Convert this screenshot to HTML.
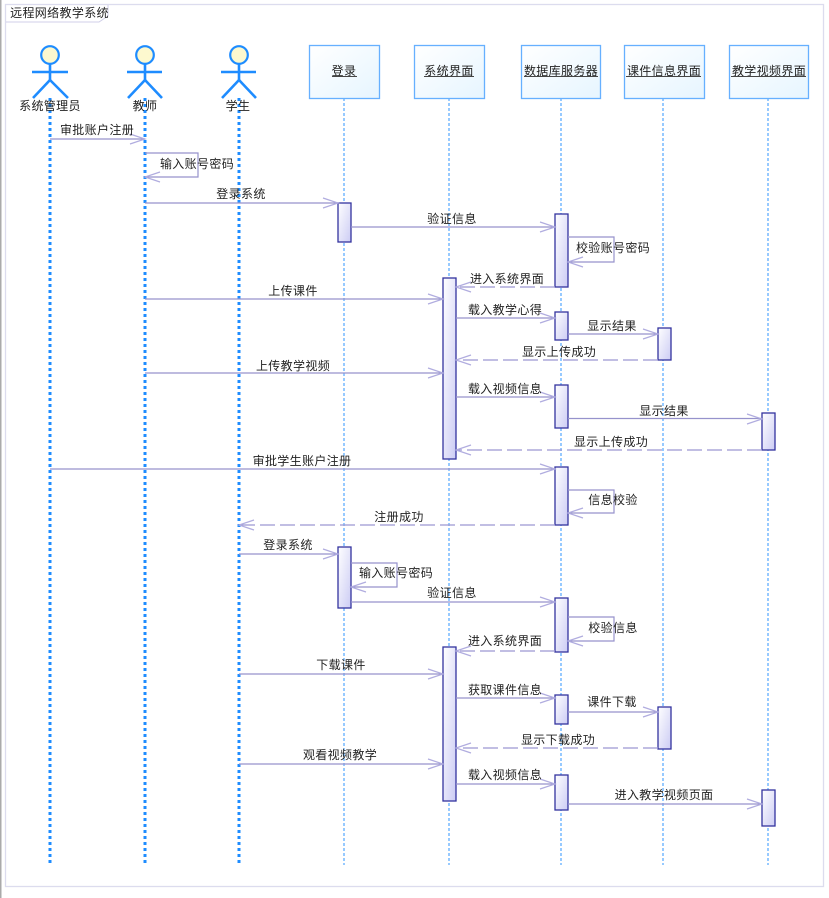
<!DOCTYPE html>
<html lang="zh"><head><meta charset="utf-8"><title>远程网络教学系统</title>
<style>
html,body{margin:0;padding:0;background:#fff;width:829px;height:898px;overflow:hidden}
svg{display:block;filter:blur(.3px)}
text{font-family:"Liberation Sans","Noto Sans CJK SC","WenQuanYi Zen Hei",sans-serif;font-size:12px;letter-spacing:.35px;fill:#222;text-anchor:middle}
.ll{stroke:#2f96ff;stroke-width:1;stroke-dasharray:3 2;fill:none}
.th{stroke:#1e8cff;stroke-width:3;stroke-dasharray:3 3;fill:none}
.m{stroke:#9692cc;stroke-width:1.2;fill:none}
.d{stroke:#9c98d2;stroke-width:1.2;stroke-dasharray:15 5;fill:none}
.ar{stroke:#b0acdf;stroke-width:1.2;fill:none}
.ac{fill:url(#g);stroke:#33339f;stroke-width:1.3}
.box{fill:url(#b);stroke:#66b0ff;stroke-width:1.3}
.act line{stroke:#1e8cff;stroke-width:2.6}
.act circle{fill:#fdf9cf;stroke:#1e8cff;stroke-width:2.2}
.u{stroke:#444;stroke-width:1}
</style></head><body>
<svg width="829" height="898" viewBox="0 0 829 898" xmlns="http://www.w3.org/2000/svg">
<defs>
<linearGradient id="g" x1="0" y1="0" x2="1" y2="1"><stop offset="0" stop-color="#fff"/><stop offset="1" stop-color="#ccccf4"/></linearGradient>
<linearGradient id="b" x1="0" y1="0" x2="1" y2="1"><stop offset="0" stop-color="#fff"/><stop offset="1" stop-color="#e6f5ff"/></linearGradient>
</defs>
<rect x="0" y="0" width="1.5" height="898" fill="#aaa"/>
<rect x="5.5" y="4.5" width="818" height="882" fill="#fff" stroke="#dcdcee" stroke-width="1.3"/>
<polyline points="6,22 99,22 108,16 108,5" fill="none" stroke="#d0cfe8" stroke-width="1"/>
<text x="59.5" y="17" style="letter-spacing:.35px">远程网络教学系统</text>

<line class="th" x1="50" y1="98" x2="50" y2="865"/>
<line class="th" x1="145" y1="98" x2="145" y2="865"/>
<line class="th" x1="239" y1="98" x2="239" y2="865"/>
<line class="ll" x1="344" y1="98" x2="344" y2="865"/>
<line class="ll" x1="449" y1="98" x2="449" y2="865"/>
<line class="ll" x1="561" y1="98" x2="561" y2="865"/>
<line class="ll" x1="663" y1="98" x2="663" y2="865"/>
<line class="ll" x1="768" y1="98" x2="768" y2="865"/>

<g class="act"><circle cx="50" cy="55" r="8.8"/><line x1="50" y1="64" x2="50" y2="80"/><line x1="32" y1="72" x2="68" y2="72"/><line x1="50" y1="80" x2="33" y2="98"/><line x1="50" y1="80" x2="68" y2="98"/></g>
<g class="act"><circle cx="145" cy="55" r="8.8"/><line x1="145" y1="64" x2="145" y2="80"/><line x1="127" y1="72" x2="162" y2="72"/><line x1="145" y1="80" x2="128" y2="98"/><line x1="145" y1="80" x2="162" y2="98"/></g>
<g class="act"><circle cx="239" cy="55" r="8.8"/><line x1="239" y1="64" x2="239" y2="80"/><line x1="221" y1="72" x2="256" y2="72"/><line x1="239" y1="80" x2="222" y2="98"/><line x1="239" y1="80" x2="256" y2="98"/></g>
<text x="50" y="110">系统管理员</text><text x="145" y="110">教师</text><text x="238" y="110">学生</text>

<rect class="box" x="309.5" y="45.5" width="70" height="53"/>
<rect class="box" x="414.5" y="45.5" width="70" height="53"/>
<rect class="box" x="521.5" y="45.5" width="79" height="53"/>
<rect class="box" x="624.5" y="45.5" width="80" height="53"/>
<rect class="box" x="729.5" y="45.5" width="79" height="53"/>
<text x="344" y="75">登录</text><line class="u" x1="332" y1="76.5" x2="357" y2="76.5"/>
<text x="449" y="75">系统界面</text><line class="u" x1="424" y1="76.5" x2="474" y2="76.5"/>
<text x="561" y="75">数据库服务器</text><line class="u" x1="524" y1="76.5" x2="598" y2="76.5"/>
<text x="664" y="75">课件信息界面</text><line class="u" x1="626" y1="76.5" x2="701" y2="76.5"/>
<text x="769" y="75">教学视频界面</text><line class="u" x1="731" y1="76.5" x2="806" y2="76.5"/>

<!-- activations -->
<rect class="ac" x="338" y="203" width="13" height="39"/>
<rect class="ac" x="555" y="214" width="13" height="73"/>
<rect class="ac" x="443" y="278" width="13" height="181"/>
<rect class="ac" x="555" y="312" width="13" height="28"/>
<rect class="ac" x="658" y="328" width="13" height="32"/>
<rect class="ac" x="555" y="385" width="13" height="43"/>
<rect class="ac" x="762" y="413" width="13" height="37"/>
<rect class="ac" x="555" y="467" width="13" height="58"/>
<rect class="ac" x="338" y="547" width="13" height="61"/>
<rect class="ac" x="555" y="598" width="13" height="54"/>
<rect class="ac" x="443" y="647" width="13" height="154"/>
<rect class="ac" x="555" y="695" width="13" height="29"/>
<rect class="ac" x="658" y="707" width="13" height="42"/>
<rect class="ac" x="555" y="775" width="13" height="35"/>
<rect class="ac" x="762" y="790" width="13" height="36"/>

<!-- messages -->
<line class="m" x1="50" y1="139" x2="145" y2="139"/><polyline class="ar" points="130,134 145,139 130,144"/><text x="97" y="134">审批账户注册</text>
<polyline class="m" points="145,153 198,153 198,177 145,177"/><polyline class="ar" points="160,172 145,177 160,182"/><text x="197" y="168">输入账号密码</text>
<line class="m" x1="145" y1="203" x2="338" y2="203"/><polyline class="ar" points="323,198 338,203 323,208"/><text x="241" y="198">登录系统</text>
<line class="m" x1="351" y1="227" x2="555" y2="227"/><polyline class="ar" points="540,222 555,227 540,232"/><text x="452" y="223">验证信息</text>
<polyline class="m" points="568,237 614,237 614,262 568,262"/><polyline class="ar" points="583,257 568,262 583,267"/><text x="613" y="252">校验账号密码</text>
<line class="d" x1="555" y1="287" x2="456" y2="287"/><polyline class="ar" points="471,282 456,287 471,292"/><text x="507" y="283">进入系统界面</text>
<line class="m" x1="145" y1="299" x2="443" y2="299"/><polyline class="ar" points="428,294 443,299 428,304"/><text x="293" y="295">上传课件</text>
<line class="m" x1="456" y1="318" x2="555" y2="318"/><polyline class="ar" points="540,313 555,318 540,323"/><text x="505" y="314">载入教学心得</text>
<line class="m" x1="568" y1="334" x2="658" y2="334"/><polyline class="ar" points="643,329 658,334 643,339"/><text x="612" y="330">显示结果</text>
<line class="d" x1="658" y1="360" x2="456" y2="360"/><polyline class="ar" points="471,355 456,360 471,365"/><text x="559" y="356">显示上传成功</text>
<line class="m" x1="145" y1="373" x2="443" y2="373"/><polyline class="ar" points="428,368 443,373 428,378"/><text x="293" y="370">上传教学视频</text>
<line class="m" x1="456" y1="397" x2="555" y2="397"/><polyline class="ar" points="540,392 555,397 540,402"/><text x="505" y="393">载入视频信息</text>
<line class="m" x1="568" y1="418.5" x2="762" y2="418.5"/><polyline class="ar" points="747,414 762,419 747,424"/><text x="664" y="415">显示结果</text>
<line class="d" x1="762" y1="450" x2="456" y2="450"/><polyline class="ar" points="471,445 456,450 471,455"/><text x="611" y="446">显示上传成功</text>
<line class="m" x1="50" y1="469" x2="555" y2="469"/><polyline class="ar" points="540,464 555,469 540,474"/><text x="302" y="465">审批学生账户注册</text>
<polyline class="m" points="568,490 614,490 614,513 568,513"/><polyline class="ar" points="583,508 568,513 583,518"/><text x="613" y="504">信息校验</text>
<line class="d" x1="555" y1="525" x2="239" y2="525"/><polyline class="ar" points="254,520 239,525 254,530"/><text x="399" y="521">注册成功</text>
<line class="m" x1="239" y1="554" x2="338" y2="554"/><polyline class="ar" points="323,549 338,554 323,559"/><text x="288" y="549">登录系统</text>
<polyline class="m" points="351,563 397,563 397,587 351,587"/><polyline class="ar" points="366,582 351,587 366,592"/><text x="396" y="577">输入账号密码</text>
<line class="m" x1="351" y1="602" x2="555" y2="602"/><polyline class="ar" points="540,597 555,602 540,607"/><text x="452" y="597">验证信息</text>
<polyline class="m" points="568,617 614,617 614,641 568,641"/><polyline class="ar" points="583,636 568,641 583,646"/><text x="613" y="632">校验信息</text>
<line class="d" x1="555" y1="651" x2="456" y2="651"/><polyline class="ar" points="471,646 456,651 471,656"/><text x="505" y="645">进入系统界面</text>
<line class="m" x1="239" y1="674" x2="443" y2="674"/><polyline class="ar" points="428,669 443,674 428,679"/><text x="341" y="669">下载课件</text>
<line class="m" x1="456" y1="698" x2="555" y2="698"/><polyline class="ar" points="540,693 555,698 540,703"/><text x="505" y="694">获取课件信息</text>
<line class="m" x1="568" y1="712" x2="658" y2="712"/><polyline class="ar" points="643,707 658,712 643,717"/><text x="612" y="706">课件下载</text>
<line class="d" x1="658" y1="748" x2="456" y2="748"/><polyline class="ar" points="471,743 456,748 471,753"/><text x="558" y="744">显示下载成功</text>
<line class="m" x1="239" y1="764" x2="443" y2="764"/><polyline class="ar" points="428,759 443,764 428,769"/><text x="340" y="759">观看视频教学</text>
<line class="m" x1="456" y1="784" x2="555" y2="784"/><polyline class="ar" points="540,779 555,784 540,789"/><text x="505" y="779">载入视频信息</text>
<line class="m" x1="568" y1="804" x2="762" y2="804"/><polyline class="ar" points="747,799 762,804 747,809"/><text x="664" y="799">进入教学视频页面</text>
</svg>
</body></html>
